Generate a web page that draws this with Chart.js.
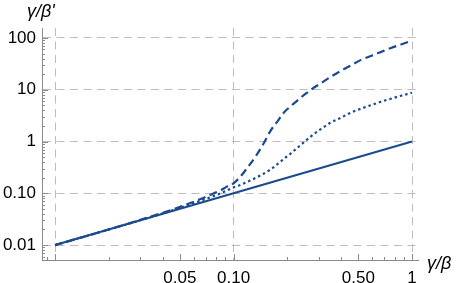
<!DOCTYPE html>
<html>
<head>
<meta charset="utf-8">
<script src="https://cdn.jsdelivr.net/npm/chart.js@4.4.1/dist/chart.umd.min.js"></script>
<style>
  html, body { margin: 0; padding: 0; background: #ffffff; }
  #wrap { width: 457px; height: 283px; }
</style>
</head>
<body>
<div id="wrap"><canvas id="chart" width="457" height="283"></canvas></div>
<script>
// Data (log-log)
const solidX = [0.01, 1];
const solidY = [0.01, 1];

const dottedX = [0.01, 0.02, 0.0389, 0.0503, 0.0653, 0.0743, 0.0845, 0.1, 0.1095, 0.1245, 0.1418, 0.1614, 0.1837,
  0.209, 0.2379, 0.2707, 0.3083, 0.3507, 0.3992, 0.4543, 0.517, 0.5885, 0.6696, 0.762, 0.8676, 1.0];
const dottedY = [0.01, 0.02, 0.0395, 0.0526, 0.0717, 0.0838, 0.1, 0.13, 0.1457, 0.178, 0.222, 0.29, 0.412,
  0.588, 0.857, 1.248, 1.74, 2.32, 2.89, 3.61, 4.31, 5.03, 5.88, 6.71, 7.67, 8.76];

const dashedX = [0.01, 0.02, 0.0342, 0.0443, 0.0503, 0.0573, 0.0653, 0.0743, 0.0845, 0.0912, 0.1, 0.1095, 0.1199,
  0.1329, 0.1474, 0.1614, 0.1767, 0.191, 0.209, 0.2288, 0.2538, 0.2814, 0.3083, 0.3507, 0.3992, 0.4543,
  0.517, 0.5885, 0.6696, 0.762, 0.8676, 1.0];
const dashedY = [0.01, 0.02, 0.0353, 0.0471, 0.055, 0.0648, 0.0773, 0.0936, 0.114, 0.133, 0.156, 0.212, 0.316,
  0.515, 0.915, 1.63, 2.48, 3.61, 4.82, 6.28, 8.38, 10.93, 13.34, 17.78, 23.2, 29.6,
  37.8, 45.1, 53.8, 64.2, 75, 89.5];

// Ticks and grid
const xTickValues = [0.01, 0.05, 0.1, 0.5, 1];
const xTickLabels = ['', '0.05', '0.10', '0.50', '1'];
const xGridValues = [0.01, 0.1, 1];
const xMinorTicks = [0.009, 0.02, 0.03, 0.04, 0.06, 0.07, 0.08, 0.09, 0.2, 0.3, 0.4, 0.6, 0.7, 0.8, 0.9];

const yTickValues = [0.01, 0.1, 1, 10, 100];
const yTickLabels = ['0.01', '0.10', '1', '10', '100'];
const yMinorTicks = [0.006, 0.007, 0.008, 0.009, 0.02, 0.03, 0.04, 0.05, 0.06, 0.07, 0.08, 0.09,
  0.2, 0.3, 0.4, 0.5, 0.6, 0.7, 0.8, 0.9, 2, 3, 4, 5, 6, 7, 8, 9, 20, 30, 40, 50, 60, 70, 80, 90];

const lineColor = '#1b4a8e';
const gridColor = '#bdbdbd';
const axisColor = '#8c8c8c';
const fontFamily = '"Liberation Sans", Arial, sans-serif';

function toPoints(xs, ys) {
  return xs.map((x, i) => ({ x: x, y: ys[i] }));
}

// Mathematica style ticks drawn inward from the axes
const inwardTicks = {
  id: 'inwardTicks',
  afterDatasetsDraw(chart) {
    const ctx = chart.ctx;
    const xs = chart.scales.x;
    const ys = chart.scales.y;
    const area = chart.chartArea;
    ctx.save();
    ctx.strokeStyle = axisColor;
    ctx.lineWidth = 1;
    ctx.beginPath();
    xTickValues.forEach(v => {
      const px = Math.round(xs.getPixelForValue(v)) + 0.5;
      ctx.moveTo(px, area.bottom); ctx.lineTo(px, area.bottom - 6);
    });
    xMinorTicks.forEach(v => {
      const px = Math.round(xs.getPixelForValue(v)) + 0.5;
      ctx.moveTo(px, area.bottom); ctx.lineTo(px, area.bottom - 3);
    });
    yTickValues.forEach(v => {
      const py = Math.round(ys.getPixelForValue(v)) + 0.5;
      ctx.moveTo(area.left, py); ctx.lineTo(area.left + 6, py);
    });
    yMinorTicks.forEach(v => {
      const py = Math.round(ys.getPixelForValue(v)) + 0.5;
      ctx.moveTo(area.left, py); ctx.lineTo(area.left + 3, py);
    });
    ctx.stroke();

    // axis labels
    ctx.fillStyle = '#000000';
    ctx.font = 'italic 18px ' + fontFamily;
    ctx.textAlign = 'left';
    ctx.textBaseline = 'alphabetic';
    ctx.fillText('\u03B3/\u03B2', area.right + 9, area.bottom + 9);
    ctx.fillText('\u03B3/\u03B2\'', 27, 17);
    ctx.restore();
  }
};

const ctx = document.getElementById('chart').getContext('2d');

new Chart(ctx, {
  type: 'line',
  data: {
    datasets: [
      {
        label: 'solid',
        data: toPoints(solidX, solidY),
        borderColor: lineColor,
        borderWidth: 2,
        pointRadius: 0
      },
      {
        label: 'dotted',
        data: toPoints(dottedX, dottedY),
        borderColor: lineColor,
        borderWidth: 2.2,
        borderDash: [2.5, 3],
        pointRadius: 0,
        cubicInterpolationMode: 'monotone'
      },
      {
        label: 'dashed',
        data: toPoints(dashedX, dashedY),
        borderColor: lineColor,
        borderWidth: 2.2,
        borderDash: [8, 4.5],
        pointRadius: 0,
        cubicInterpolationMode: 'monotone'
      }
    ]
  },
  options: {
    responsive: false,
    animation: false,
    layout: { padding: { left: 0, top: 28, right: 39, bottom: 0 } },
    plugins: {
      legend: { display: false },
      tooltip: { enabled: false }
    },
    scales: {
      x: {
        type: 'logarithmic',
        min: 0.00845,
        max: 1.08,
        afterBuildTicks: scale => { scale.ticks = xTickValues.map(v => ({ value: v })); },
        afterFit: scale => { scale.height = 23; },
        grid: {
          drawTicks: false,
          color: c => (c.tick && xGridValues.includes(c.tick.value)) ? gridColor : 'rgba(0,0,0,0)',
          lineWidth: 1
        },
        border: { color: axisColor, width: 1, dash: [8, 5.5] },
        ticks: {
          autoSkip: false,
          maxRotation: 0,
          padding: 8,
          color: '#000000',
          font: { family: fontFamily, size: 17 },
          callback: (value) => {
            const i = xTickValues.indexOf(value);
            return i >= 0 ? xTickLabels[i] : '';
          }
        }
      },
      y: {
        type: 'logarithmic',
        min: 0.00515,
        max: 156,
        afterBuildTicks: scale => { scale.ticks = yTickValues.map(v => ({ value: v })); },
        afterFit: scale => { scale.width = 42; },
        grid: {
          drawTicks: false,
          color: gridColor,
          lineWidth: 1
        },
        border: { color: axisColor, width: 1, dash: [8, 5.5] },
        ticks: {
          autoSkip: false,
          padding: 6,
          color: '#000000',
          font: { family: fontFamily, size: 17 },
          callback: (value) => {
            const i = yTickValues.indexOf(value);
            return i >= 0 ? yTickLabels[i] : '';
          }
        }
      }
    }
  },
  plugins: [inwardTicks]
});
</script>
</body>
</html>
